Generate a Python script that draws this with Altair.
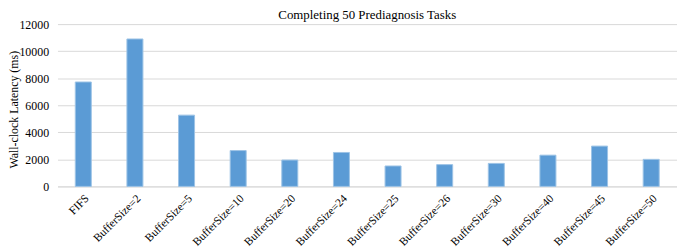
import altair as alt
import pandas as pd

categories = ["FIFS", "BufferSize=2", "BufferSize=5", "BufferSize=10", "BufferSize=20",
              "BufferSize=24", "BufferSize=25", "BufferSize=26", "BufferSize=30",
              "BufferSize=40", "BufferSize=45", "BufferSize=50"]
latency = [7720, 10900, 5270, 2650, 1950, 2510, 1510, 1610, 1700, 2310, 2980, 2000]

df = pd.DataFrame({"cat": categories, "val": latency})

font = "Liberation Serif"

chart = alt.Chart(df).mark_bar(
    color="#5B9BD5", stroke="#9DC3E6", strokeWidth=1
).encode(
    x=alt.X("cat:N", sort=categories, title=None,
            scale=alt.Scale(paddingInner=0.69, paddingOuter=0.345),
            axis=alt.Axis(labelAngle=-45, labelAlign="right", labelBaseline="top",
                          ticks=False, domainColor="#D9D9D9", domainWidth=1,
                          labelFont=font, labelFontSize=11.5, labelColor="#000000",
                          labelPadding=6)),
    y=alt.Y("val:Q", title="Wall-clock Latency (ms)",
            scale=alt.Scale(domain=[0, 12000]),
            axis=alt.Axis(values=[0, 2000, 4000, 6000, 8000, 10000, 12000],
                          format="d", domain=False, ticks=False,
                          gridColor="#D9D9D9", gridWidth=1,
                          labelFont=font, labelFontSize=12, labelColor="#000000",
                          labelPadding=9,
                          titleFont=font, titleFontSize=12, titleFontWeight="normal",
                          titleColor="#000000", titleAngle=270, titleAlign="center",
                          titleBaseline="middle", titleX=-44, titleY=86)),
).properties(
    width=626, height=164,
    title=alt.TitleParams("Completing 50 Prediagnosis Tasks", font=font, fontSize=13,
                          fontWeight="normal", color="#000000", anchor="middle",
                          frame="group", offset=0, baseline="alphabetic", dy=14),
    autosize=alt.AutoSizeParams(type="none"),
    padding={"left": 50, "top": 15, "right": 0, "bottom": 64},
).configure_view(stroke=None)

chart.save("out.html", embed_options={"renderer": "svg", "actions": False})
